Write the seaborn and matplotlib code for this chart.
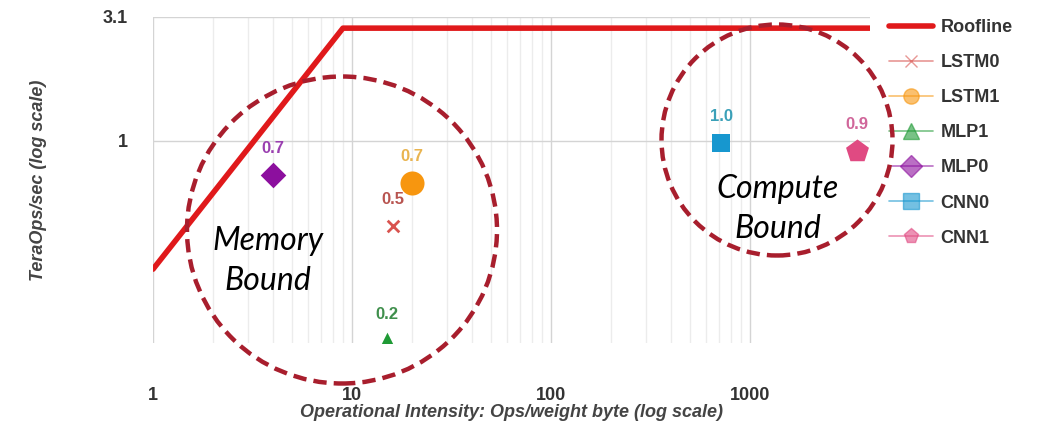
import matplotlib
matplotlib.use('Agg')
import matplotlib.pyplot as plt
from matplotlib.patches import Ellipse
from matplotlib.lines import Line2D
from matplotlib.ticker import FixedLocator, NullFormatter
import seaborn as sns
import pandas as pd

# roofline
roof_x = [1, 9, 4000]
roof_y = [0.31, 2.8, 2.8]

# models: operational intensity, TeraOps/sec, label value
models = ['LSTM0', 'LSTM1', 'MLP1', 'MLP0', 'CNN0', 'CNN1']
intensity = [16, 20, 15, 4.0, 715, 3450]
teraops = [0.46, 0.68, 0.16, 0.73, 0.98, 0.91]
labels = ['0.5', '0.7', '0.2', '0.7', '1.0', '0.9']
colors = ['#d9534f', '#f7960f', '#1f9a35', '#8c0f9e', '#1797cf', '#e04a82']
label_colors = ['#b85450', '#e9b450', '#3f8f4c', '#9a3fb0', '#3aa0b8', '#d0669a']
markers = ['x', 'o', '^', 'D', 's', 'p']
sizes = [70, 300, 200, 170, 170, 300]

df = pd.DataFrame({'model': models, 'x': intensity, 'y': teraops})

sns.set_style('whitegrid')
plt.rcParams['font.family'] = ['Liberation Sans', 'DejaVu Sans']

fig = plt.figure(figsize=(10.58, 4.25), dpi=100)
ax = fig.add_axes([153 / 1058, 1 - 343 / 425, (870 - 153) / 1058, (343 - 17) / 425])

sns.lineplot(x=roof_x, y=roof_y, ax=ax, color='#e0191b', linewidth=4, zorder=3)
for i, m in enumerate(models):
    sns.scatterplot(data=df[df.model == m], x='x', y='y', ax=ax, marker=markers[i],
                    s=sizes[i], color=colors[i], linewidth=2 if markers[i] == 'x' else 0,
                    zorder=4, legend=False)
    ax.annotate(labels[i], (intensity[i], teraops[i]), xytext=(0, 14), textcoords='offset points',
                ha='center', va='bottom', color=label_colors[i], fontsize=12, fontweight='bold')

ax.set_xscale('log')
ax.set_yscale('log')
ax.set_xlim(1, 4000)
ax.set_ylim(0.158, 3.1)

ax.xaxis.set_major_locator(FixedLocator([1, 10, 100, 1000]))
ax.xaxis.set_minor_locator(FixedLocator([k * d for d in [1, 10, 100] for k in range(2, 10)]))
ax.xaxis.set_minor_formatter(NullFormatter())
ax.set_xticklabels(['1', '10', '100', '1000'])
ax.yaxis.set_major_locator(FixedLocator([1, 3.1]))
ax.yaxis.set_minor_locator(FixedLocator([]))
ax.set_yticklabels(['1', '3.1'])
ax.grid(which='major', color='#d4d4d4', linewidth=1)
ax.grid(which='minor', axis='x', color='#ececec', linewidth=1)
for s in ax.spines.values():
    s.set_visible(False)
ax.tick_params(which='both', length=0)
ax.tick_params(axis='x', pad=32, labelsize=13, labelcolor='#333333')
ax.tick_params(axis='y', pad=18, labelsize=13, labelcolor='#333333')
for t in ax.get_xticklabels() + ax.get_yticklabels():
    t.set_fontweight('bold')

ax.set_xlabel('Operational Intensity: Ops/weight byte (log scale)', fontsize=13,
              fontweight='bold', fontstyle='italic', color='#444444', labelpad=0)
ax.set_ylabel('TeraOps/sec (log scale)', fontsize=13, fontweight='bold',
              fontstyle='italic', color='#444444', labelpad=40)

# legend
handles = [Line2D([], [], color='#e0191b', linewidth=4)]
for i in range(len(models)):
    handles.append(Line2D([], [], color=colors[i], alpha=0.6, linewidth=1.2,
                          marker=markers[i], markersize=11 if markers[i] != 'x' else 8,
                          markerfacecolor=colors[i], markeredgecolor=colors[i]))
leg = fig.legend(handles, ['Roofline'] + models, loc='upper left',
                 bbox_to_anchor=(873 / 1058, 1 - 3 / 425), frameon=False,
                 prop={'weight': 'bold', 'size': 13}, labelspacing=1.0,
                 handlelength=2.4, handletextpad=0.45)
for t in leg.get_texts():
    t.set_color('#333333')

# annotation circles
circ_color = '#a81e2d'
fig.add_artist(Ellipse((3.42, (425 - 230) / 100), 3.10, 3.07, transform=fig.dpi_scale_trans,
                       fill=False, edgecolor=circ_color, linewidth=3.2, linestyle=(0, (3, 1.6)), zorder=10))
fig.add_artist(Ellipse((7.77, (425 - 140) / 100), 2.31, 2.31, transform=fig.dpi_scale_trans,
                       fill=False, edgecolor=circ_color, linewidth=3.2, linestyle=(0, (3, 1.6)), zorder=10))

fig.text(268 / 1058, 1 - 261 / 425, 'Memory\nBound', ha='center', va='center', fontsize=23,
         fontstyle='italic', family='Lato', linespacing=1.45, color='black')
fig.text(778 / 1058, 1 - 209 / 425, 'Compute\nBound', ha='center', va='center', fontsize=23,
         fontstyle='italic', family='Lato', linespacing=1.45, color='black')

fig.savefig('out.png', dpi=100)
